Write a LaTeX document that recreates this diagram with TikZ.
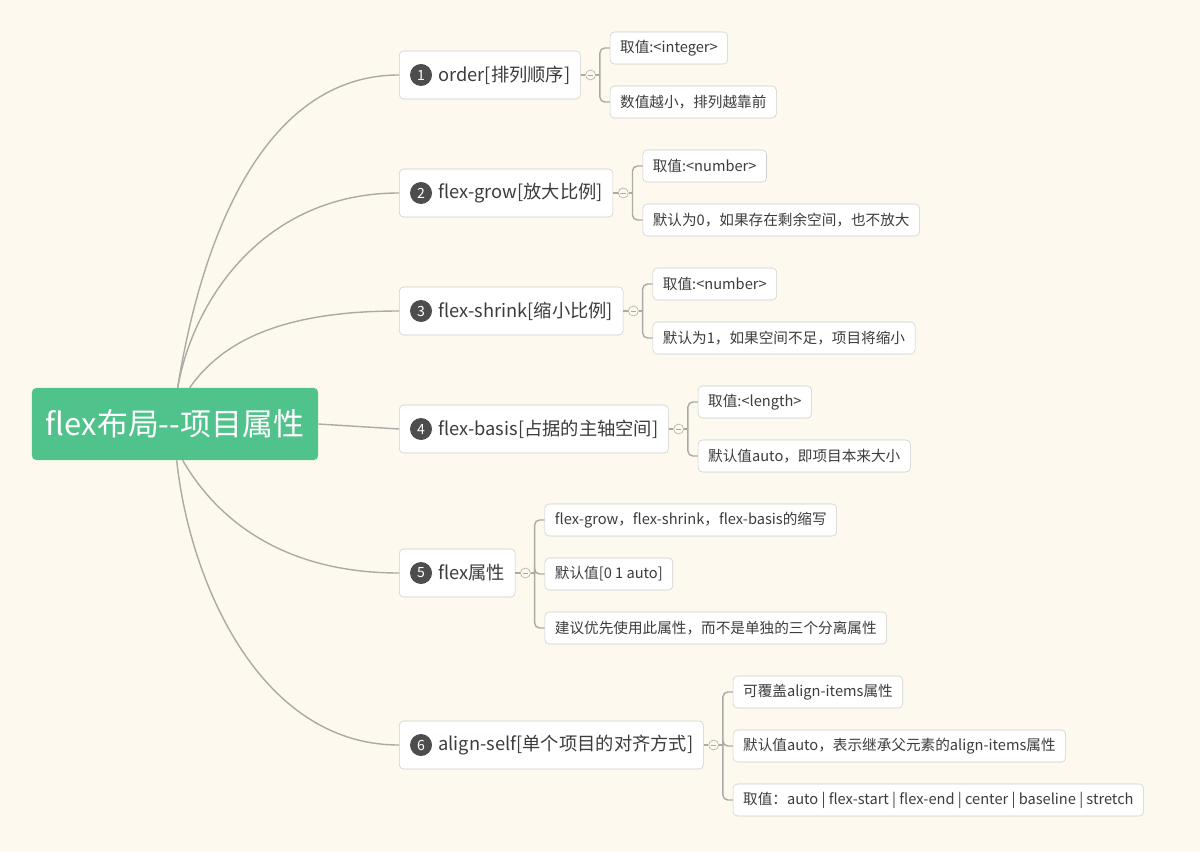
\documentclass[tikz,border=0pt]{standalone}
\usepackage{fontspec}
\setmainfont{Noto Sans CJK SC}
\usetikzlibrary{calc, positioning}
\definecolor{paper}{RGB}{253,249,238}
\definecolor{rootgreen}{RGB}{80,194,139}
\definecolor{linkgray}{RGB}{172,170,166}
\definecolor{boxgray}{RGB}{206,206,206}
\definecolor{numdark}{RGB}{77,77,77}
\definecolor{inkgray}{RGB}{60,60,60}
\newcommand\numpad{\hspace*{0.725cm}}

\begin{document}
\begin{tikzpicture}[x=0.025cm, y=-0.025cm,
  root/.style={fill=rootgreen, rounded corners=3pt, minimum width=7.15cm, minimum height=1.8cm, text=white, font=\fontsize{22}{26}\selectfont},
  branch/.style={draw=boxgray, fill=white, rounded corners=3pt, anchor=west, minimum height=1.2cm, inner xsep=0.25cm, font=\fontsize{13}{16}\selectfont, text=inkgray},
  leaf/.style={draw=boxgray, fill=white, rounded corners=3pt, anchor=west, minimum height=0.8cm, inner xsep=0.25cm, font=\fontsize{10.4}{13}\selectfont, text=inkgray},
  num/.style={circle, fill=numdark, text=white, inner sep=0pt, minimum size=0.55cm, font=\fontsize{10}{12}\selectfont},
  fold/.style={circle, draw=linkgray, fill=paper, inner sep=0pt, minimum size=0.25cm,
    path picture={\draw[linkgray, line width=0.5pt] ([xshift=-2pt]path picture bounding box.center) -- ([xshift=2pt]path picture bounding box.center);}},
  link/.style={draw=linkgray, line width=1pt},
  bracket/.style={link, rounded corners=3.5pt}
]
\fill[paper] (0,0) rectangle (1200,852);

% root
\node[root] (root) at (175,424) {flex布局{-}{-}项目属性};

% branches
\node[branch] (b1) at (399,75) {\numpad order[排列顺序]};
\node[branch] (b2) at (399,193) {\numpad flex-grow[放大比例]};
\node[branch] (b3) at (399,311) {\numpad flex-shrink[缩小比例]};
\node[branch] (b4) at (399,429) {\numpad flex-basis[占据的主轴空间]};
\node[branch] (b5) at (399,573) {\numpad flex属性};
\node[branch] (b6) at (399,745) {\numpad align-self[单个项目的对齐方式]};

\foreach \i in {1,...,6} {
  \node[num] (n\i) at ($(b\i.west)+(22,0)$) {\i};
  \node[fold] (f\i) at ($(b\i.east)+(10,0)$) {};
  \coordinate (j\i) at ($(f\i.east)+(4,0)$);
  \draw[link] (b\i.east) -- (f\i.west);
  \draw[link] (f\i.east) -- (j\i);
}

% root to branches
\coordinate (r1) at ($(root.north west)+(146,0)$);
\coordinate (r3) at ($(root.north west)+(158,0)$);
\coordinate (r5) at ($(root.south west)+(151,0)$);
\coordinate (r6) at ($(root.south west)+(145,0)$);
\draw[link] (r1) to[out=81, in=180, out distance=3.5cm, in distance=3.5cm] (b1.west);
\draw[link] (r1) to[out=80, in=180, out distance=2.2cm, in distance=3.4cm] (b2.west);
\draw[link] (r3) to[out=55, in=180, out distance=1.5cm, in distance=2.8cm] (b3.west);
\draw[link] (root.east) -- (b4.west);
\draw[link] (r5) to[out=-60, in=180, out distance=1.6cm, in distance=3cm] (b5.west);
\draw[link] (r6) to[out=-84, in=180, out distance=3cm, in distance=3.5cm] (b6.west);

% leaves
\node[leaf] (l1a) at ($(j1)+(10,-27)$) {取值:<integer>};
\node[leaf] (l1b) at ($(j1)+(10,27)$) {数值越小，排列越靠前};
\node[leaf] (l2a) at ($(j2)+(10,-27)$) {取值:<number>};
\node[leaf] (l2b) at ($(j2)+(10,27)$) {默认为0，如果存在剩余空间，也不放大};
\node[leaf] (l3a) at ($(j3)+(10,-27)$) {取值:<number>};
\node[leaf] (l3b) at ($(j3)+(10,27)$) {默认为1，如果空间不足，项目将缩小};
\node[leaf] (l4a) at ($(j4)+(10,-27)$) {取值:<length>};
\node[leaf] (l4b) at ($(j4)+(10,27)$) {默认值auto，即项目本来大小};
\node[leaf] (l5a) at ($(j5)+(10,-53)$) {flex-grow，flex-shrink，flex-basis的缩写};
\node[leaf] (l5b) at ($(j5)+(10,1)$) {默认值[0 1 auto]};
\node[leaf] (l5c) at ($(j5)+(10,55)$) {建议优先使用此属性，而不是单独的三个分离属性};
\node[leaf] (l6a) at ($(j6)+(10,-53)$) {可覆盖align-items属性};
\node[leaf] (l6b) at ($(j6)+(10,1)$) {默认值auto，表示继承父元素的align-items属性};
\node[leaf] (l6c) at ($(j6)+(10,55)$) {取值：auto | flex-start | flex-end | center | baseline | stretch};

% brackets
\foreach \i/\leaves in {1/{a,b}, 2/{a,b}, 3/{a,b}, 4/{a,b}, 5/{a,b,c}, 6/{a,b,c}} {
  \foreach \k in \leaves
    \draw[bracket] (j\i) |- (l\i\k.west);
}
\end{tikzpicture}
\end{document}
